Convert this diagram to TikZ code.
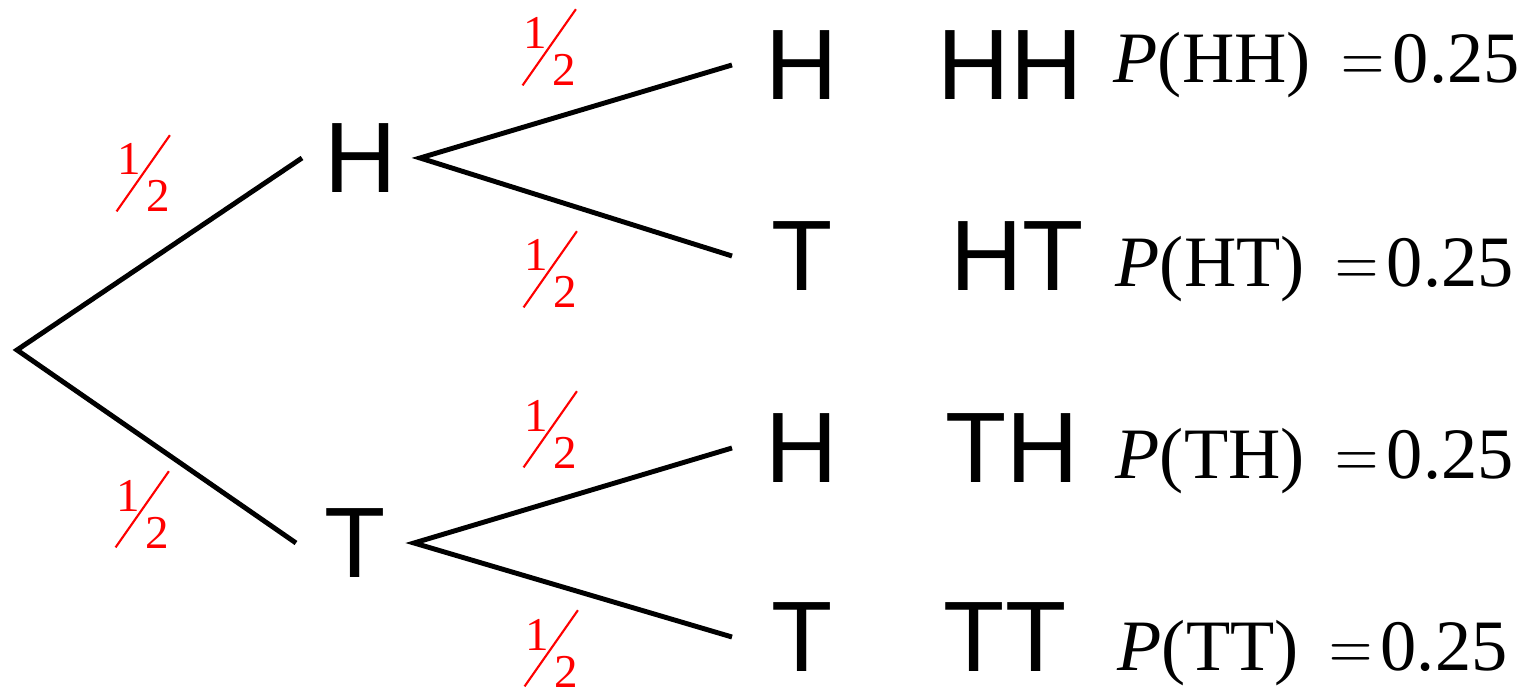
\documentclass[tikz,border=0pt]{standalone}
\usepackage{fontspec}
\setmainfont{Liberation Serif}
\setsansfont{Liberation Sans}
\usepackage{graphicx}
\usetikzlibrary{positioning}

\newcommand{\halfx}{\rlap{\rotatebox{55}{\rule{0.93cm}{0.6pt}}}\kern0.02cm\raisebox{0.37cm}{1}\kern0.05cm 2}
\newcommand{\probof}[1]{\textit{P}(#1)\hspace{0.42em}\scalebox{0.82}[1]{$=$}\hspace{0.12em}0.25}

\begin{document}
\begin{tikzpicture}[
    coin/.style={font=\sffamily\fontsize{28.5}{34}\selectfont, inner sep=0pt, outer sep=0pt, minimum width=1.18cm},
    leaf/.style={coin, anchor=west, minimum width=1.40cm},
    outcome/.style={font=\sffamily\fontsize{28.5}{34}\selectfont, inner sep=0pt},
    prob/.style={font=\fontsize{20.6}{26}\selectfont, anchor=base west, inner sep=0pt},
    half/.style={font=\fontsize{13.4}{16}\selectfont, text=red, anchor=base west, inner sep=0pt},
    branch/.style={line width=1.4pt}
]
\useasboundingbox (0,0) rectangle (15.34,6.93);
\coordinate (root) at (0.17,3.43);
\node[coin] (h) at (3.61,5.35) {H};
\node[coin] (t) at (3.55,1.50) {T};

\node[leaf] (hh) at (7.32,6.28) {H};
\node[leaf] (ht) at (7.32,4.37) {T};
\node[leaf] (th) at (7.32,2.45) {H};
\node[leaf] (tt) at (7.32,0.56) {T};

\node[outcome] (ohh) at (10.10,6.28) {HH};
\node[outcome] (oht) at (10.17,4.37) {HT};
\node[outcome] (oth) at (10.12,2.45) {TH};
\node[outcome] (ott) at (10.05,0.56) {TT};

\node[prob] (phh) at (11.13,6.10) {\probof{HH}};
\node[prob] (pht) at (11.15,4.06) {\probof{HT}};
\node[prob] (pth) at (11.15,2.15) {\probof{TH}};
\node[prob] (ptt) at (11.17,0.23) {\probof{TT}};

\node[half] (fh) at (1.15,4.81) {\halfx};
\node[half] (ft) at (1.14,1.45) {\halfx};
\node[half] (fhh) at (5.21,6.07) {\halfx};
\node[half] (fht) at (5.22,3.85) {\halfx};
\node[half] (fth) at (5.22,2.25) {\halfx};
\node[half] (ftt) at (5.23,0.06) {\halfx};

\draw[branch] (h.west) -- (root) -- (t.west);
\draw[branch] (hh.west) -- (h.east) -- (ht.west);
\draw[branch] (th.west) -- (t.east) -- (tt.west);
\end{tikzpicture}
\end{document}
